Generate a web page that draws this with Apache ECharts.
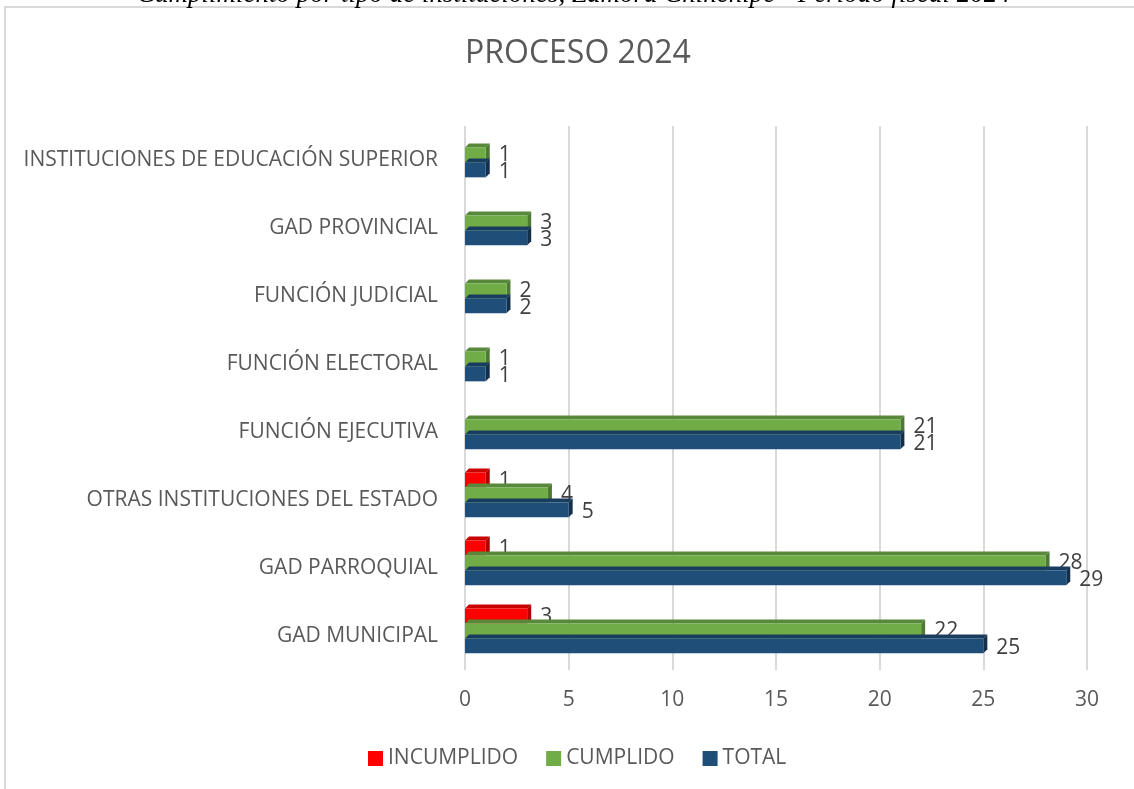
<!DOCTYPE html>
<html>
<head>
<meta charset="utf-8">
<script src="https://cdn.jsdelivr.net/npm/echarts@6/dist/echarts.min.js"></script>
<style>
  html, body { margin: 0; padding: 0; background: #fff; }
  #main_chart { width: 1134px; height: 789px; }
</style>
</head>
<body>
<div id="main_chart"></div>
<script>
// categorias (de abajo hacia arriba, como las pinta echarts)
var categorias = ['GAD MUNICIPAL', 'GAD PARROQUIAL', 'OTRAS INSTITUCIONES DEL ESTADO', 'FUNCIÓN EJECUTIVA',
  'FUNCIÓN ELECTORAL', 'FUNCIÓN JUDICIAL', 'GAD PROVINCIAL', 'INSTITUCIONES DE EDUCACIÓN SUPERIOR'];
var incumplido = [3, 1, 1, null, null, null, null, null];
var cumplido = [22, 28, 4, 21, 1, 2, 3, 1];
var total = [25, 29, 5, 21, 1, 2, 3, 1];
var xTicks = [0, 5, 10, 15, 20, 25, 30];

var caption = 'Cumplimiento por tipo de instituciones, Zamora Chinchipe - Período fiscal 2024';

// colores: frente, cara superior, cara lateral
var colores = {
  INCUMPLIDO: ['#ff0000', '#c80000', '#b00000'],
  CUMPLIDO: ['#70ad47', '#58893a', '#4d7a32'],
  TOTAL: ['#1f4e79', '#183d5f', '#132f4a']
};

// barra "3D" dibujada sobre las escalas de echarts
function barra3d(slot, cols, labelDy) {
  return function (params, api) {
    var val = api.value(0);
    if (val == null || isNaN(val)) return;
    var p0 = api.coord([0, api.value(1)]);
    var p1 = api.coord([val, api.value(1)]);
    var band = api.size([0, 1])[1];
    var h = band * 0.22;
    var top = p0[1] - band * 0.405 + slot * h;
    var x0 = p0[0], x1 = p1[0], d = 4;
    return {
      type: 'group',
      children: [
        { type: 'polygon', shape: { points: [[x0, top], [x0 + d, top - d], [x1 + d, top - d], [x1, top]] },
          style: { fill: cols[1] } },
        { type: 'polygon', shape: { points: [[x1, top], [x1 + d, top - d], [x1 + d, top + h - d], [x1, top + h]] },
          style: { fill: cols[2] } },
        { type: 'rect', shape: { x: x0, y: top, width: x1 - x0, height: h },
          style: { fill: cols[0] } },
        { type: 'text', x: x1 + 13, y: top + h / 2 + labelDy,
          style: { text: String(val), fill: '#404040', font: '21px "Open Sans"', verticalAlign: 'middle', align: 'left' } }
      ]
    };
  };
}

function datos(arr) {
  var out = [];
  for (var i = 0; i < arr.length; i++) out.push([arr[i], i]);
  return out;
}

var myChart = echarts.init(document.getElementById('main_chart'));

var option = {
  backgroundColor: '#ffffff',
  animation: false,
  textStyle: { fontFamily: '"Open Sans", sans-serif' },
  title: {
    text: 'PROCESO 2024',
    left: 460,
    top: 33,
    textStyle: { fontSize: 32, fontWeight: 'normal', color: '#595959', fontFamily: '"Open Sans", sans-serif' }
  },
  graphic: [
    { type: 'rect', shape: { x: 5, y: 7, width: 1140, height: 800 },
      style: { fill: 'none', stroke: '#d9d9d9', lineWidth: 2 }, silent: true },
    { type: 'text', left: 137, top: -19,
      style: { text: caption, font: 'italic 27px "Liberation Serif"', fill: '#000' } }
  ],
  legend: {
    data: ['INCUMPLIDO', 'CUMPLIDO', 'TOTAL'],
    top: 743,
    left: 363,
    icon: 'rect',
    itemWidth: 15,
    itemHeight: 15,
    itemGap: 28,
    textStyle: { fontSize: 21, color: '#595959' }
  },
  grid: { left: 465, right: 47, top: 126, bottom: 119, containLabel: false },
  xAxis: {
    type: 'value',
    min: xTicks[0],
    max: xTicks[xTicks.length - 1],
    interval: 5,
    axisLine: { show: false },
    axisTick: { show: false },
    axisLabel: { fontSize: 21, color: '#595959', margin: 20 },
    splitLine: { lineStyle: { color: '#d9d9d9', width: 2 } }
  },
  yAxis: {
    type: 'category',
    data: categorias,
    axisLine: { show: false },
    axisTick: { show: false },
    axisLabel: { fontSize: 21, color: '#595959', margin: 27 }
  },
  series: [
    { name: 'INCUMPLIDO', type: 'custom', renderItem: barra3d(0, colores.INCUMPLIDO, 1),
      itemStyle: { color: colores.INCUMPLIDO[0] }, encode: { x: 0, y: 1 }, data: datos(incumplido) },
    { name: 'CUMPLIDO', type: 'custom', renderItem: barra3d(1, colores.CUMPLIDO, 0),
      itemStyle: { color: colores.CUMPLIDO[0] }, encode: { x: 0, y: 1 }, data: datos(cumplido) },
    { name: 'TOTAL', type: 'custom', renderItem: barra3d(2, colores.TOTAL, 2),
      itemStyle: { color: colores.TOTAL[0] }, encode: { x: 0, y: 1 }, data: datos(total) }
  ]
};

myChart.setOption(option);
</script>
</body>
</html>
